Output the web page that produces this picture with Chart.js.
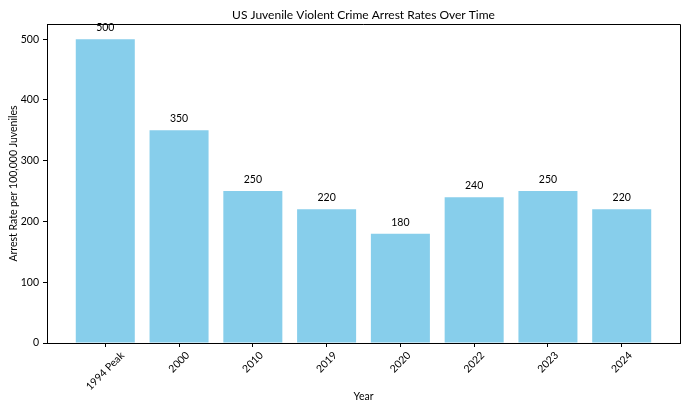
<!DOCTYPE html>
<html>
<head>
<meta charset="utf-8">
<script src="https://cdn.jsdelivr.net/npm/chart.js@4/dist/chart.umd.min.js"></script>
<style>
  html, body { margin: 0; padding: 0; background: #fff; }
  #wrap { width: 690px; height: 413px; }
</style>
</head>
<body>
<div id="wrap"><canvas id="c" width="690" height="413"></canvas></div>
<script>
const categories = ["1994 Peak", "2000", "2010", "2019", "2020", "2022", "2023", "2024"];
const arrestRates = [500, 350, 250, 220, 180, 240, 250, 220];
const yTicks = [0, 100, 200, 300, 400, 500];
const titleText = "US Juvenile Violent Crime Arrest Rates Over Time";
const xTitle = "Year";
const yTitle = "Arrest Rate per 100,000 Juveniles";

const FONT = "Lato, 'Liberation Sans', sans-serif";

const textPlugin = {
  id: 'textPlugin',
  afterDraw(chart) {
    const ctx = chart.ctx;
    const a = chart.chartArea;
    const xs = chart.scales.x, ys = chart.scales.y;
    ctx.save();
    // top & right spines
    ctx.strokeStyle = '#000';
    ctx.lineWidth = 1;
    ctx.beginPath();
    ctx.moveTo(a.left, a.top + 0.5);
    ctx.lineTo(a.right + 0.5, a.top + 0.5);
    ctx.lineTo(a.right + 0.5, a.bottom);
    ctx.stroke();

    ctx.fillStyle = '#000';
    // title
    ctx.font = "12px " + FONT;
    ctx.textAlign = 'center';
    ctx.textBaseline = 'middle';
    ctx.fillText(titleText, (a.left + a.right) / 2, 15);

    // value labels
    ctx.font = "10.5px " + FONT;
    ctx.textAlign = 'center';
    ctx.textBaseline = 'alphabetic';
    arrestRates.forEach((v, i) => {
      ctx.fillText(String(v), xs.getPixelForValue(i), ys.getPixelForValue(v) - 8);
    });

    // rotated x labels (centered like matplotlib)
    ctx.font = "10.5px " + FONT;
    categories.forEach((c, i) => {
      const w = ctx.measureText(c).width;
      const h = 10;
      const ext = (w + h) * Math.SQRT1_2;
      const cx = xs.getPixelForValue(i);
      const cy = a.bottom + 7 + ext / 2;
      ctx.save();
      ctx.translate(cx, cy);
      ctx.rotate(-Math.PI / 4);
      ctx.textAlign = 'center';
      ctx.textBaseline = 'middle';
      ctx.fillText(c, 0, 0);
      ctx.restore();
    });

    // axis titles
    ctx.font = "10.5px " + FONT;
    ctx.textAlign = 'center';
    ctx.textBaseline = 'middle';
    ctx.fillText(xTitle, (a.left + a.right) / 2, 397);
    ctx.save();
    ctx.translate(14, (a.top + a.bottom) / 2);
    ctx.rotate(-Math.PI / 2);
    ctx.fillText(yTitle, 0, 0);
    ctx.restore();
    ctx.restore();
  }
};

new Chart(document.getElementById('c'), {
  type: 'bar',
  data: {
    datasets: [{
      data: categories.map((c, i) => ({ x: i, y: arrestRates[i] })),
      backgroundColor: '#87CEEB',
      borderWidth: 0,
      categoryPercentage: 1.0,
      barPercentage: 0.8
    }]
  },
  options: {
    responsive: false,
    animation: false,
    devicePixelRatio: 1,
    layout: { padding: { top: 24, right: 10, left: 0, bottom: 0 } },
    plugins: { legend: { display: false }, tooltip: { enabled: false }, title: { display: false } },
    scales: {
      x: {
        type: 'linear',
        offset: false,
        min: -0.79,
        max: 7.79,
        afterBuildTicks: s => { s.ticks = categories.map((c, i) => ({ value: i })); },
        afterFit: s => { s.height = 70; },
        ticks: { color: 'transparent', autoSkip: false, maxRotation: 0, minRotation: 0, font: { size: 10, family: FONT } },
        grid: { drawOnChartArea: false, drawTicks: true, tickLength: 4, color: '#000', offset: false },
        border: { display: true, color: '#000', width: 1 }
      },
      y: {
        min: 0,
        max: 525,
        afterBuildTicks: s => { s.ticks = yTicks.map(v => ({ value: v })); },
        afterFit: s => { s.width = 47; },
        ticks: { color: '#000', padding: 4, font: { size: 10.5, family: FONT } },
        grid: { drawOnChartArea: false, drawTicks: true, tickLength: 4, color: '#000' },
        border: { display: true, color: '#000', width: 1 }
      }
    }
  },
  plugins: [textPlugin]
});
</script>
</body>
</html>
